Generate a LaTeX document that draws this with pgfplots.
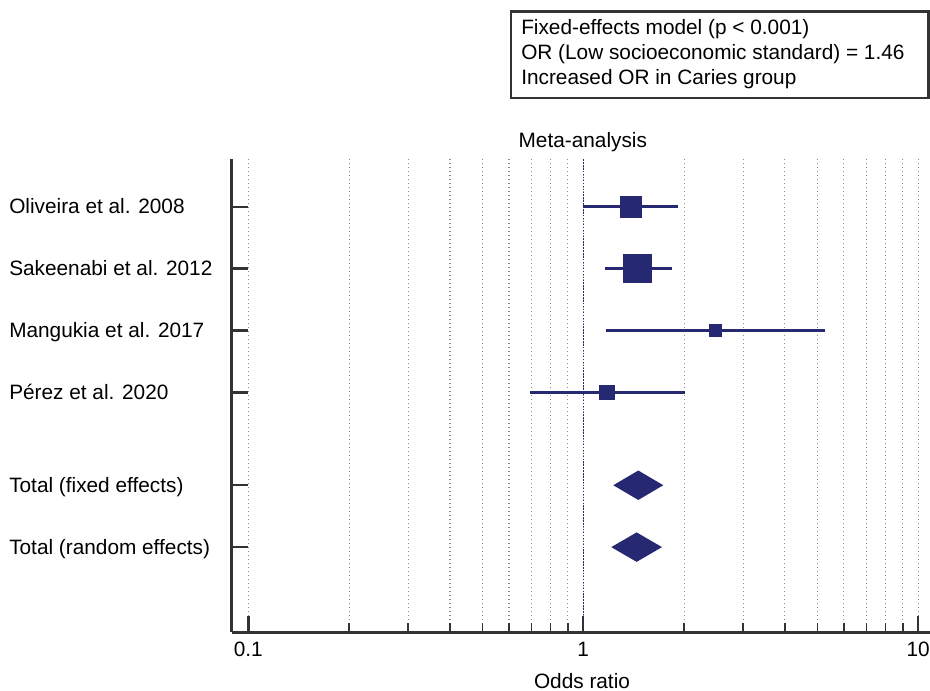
\documentclass[border=0pt]{standalone}
\usepackage{pgfplots}
\pgfplotsset{compat=1.18}
\usepackage{fontspec}
\setmainfont{Liberation Sans}
\definecolor{navy}{RGB}{38,40,114}
\definecolor{axgray}{RGB}{51,51,51}
\definecolor{gridgray}{RGB}{140,140,140}
\newcommand\ff{\fontsize{15.6pt}{18.4pt}\selectfont}
\begin{document}
\begin{tikzpicture}
\begin{axis}[
  scale only axis,
  width=523.7pt, height=354.75pt,
  xmode=log, log basis x=10,
  xmin=0.0892, xmax=10.84,
  ymin=0.234, ymax=7.876, y dir=reverse,
  axis x line*=bottom, axis y line*=left,
  axis line style={axgray, line width=2pt},
  xtick={0.1,1,10}, xticklabels={0.1,1,10},
  minor xtick={0.2,0.3,0.4,0.5,0.6,0.7,0.8,0.9,2,3,4,5,6,7,8,9},
  ytick={1,2,3,4,5.5,6.5}, yticklabels={},
  tick align=inside,
  major tick length=12pt, minor tick length=7pt,
  major tick style={axgray, line width=1.8pt},
  minor tick style={axgray, line width=1pt},
  xmajorgrids, xminorgrids,
  major grid style={gridgray, line width=0.8pt, dash pattern=on 0.75pt off 2.25pt},
  minor grid style={gridgray, line width=0.8pt, dash pattern=on 0.75pt off 2.25pt},
  xticklabel style={font=\ff, anchor=base, yshift=-18.3pt},
  clip=false,
]
% reference line at OR = 1
\addplot[navy, line width=1.1pt, dash pattern=on 1.1pt off 1.1pt] coordinates {(1,0.234) (1,7.876)};
% confidence intervals
\addplot[navy, line width=2pt] coordinates {(1.00,1) (1.92,1)};
\addplot[navy, line width=2pt] coordinates {(1.158,2) (1.84,2)};
\addplot[navy, line width=2pt] coordinates {(1.171,3) (5.28,3)};
\addplot[navy, line width=2pt] coordinates {(0.695,4) (2.006,4)};
% point estimates (box size ~ weight)
\addplot[only marks, mark=square*, mark size=8.0pt, mark options={fill=navy, draw=navy, line width=0.4pt}] coordinates {(1.388,1)};
\addplot[only marks, mark=square*, mark size=10.4pt, mark options={fill=navy, draw=navy, line width=0.4pt}] coordinates {(1.451,2)};
\addplot[only marks, mark=square*, mark size=4.4pt, mark options={fill=navy, draw=navy, line width=0.4pt}] coordinates {(2.475,3)};
\addplot[only marks, mark=square*, mark size=5.4pt, mark options={fill=navy, draw=navy, line width=0.4pt}] coordinates {(1.175,4)};
% pooled estimates
\addplot[fill=navy, draw=none] coordinates {(1.229,5.5) (1.46,5.262) (1.733,5.5) (1.46,5.738)} --cycle;
\addplot[fill=navy, draw=none] coordinates {(1.212,6.5) (1.443,6.262) (1.718,6.5) (1.443,6.738)} --cycle;
\coordinate (TL) at (rel axis cs:0,1);
\end{axis}
\begin{scope}[shift={(TL)}, shift={(-173.775pt,119.475pt)}, x=0.75pt, y=-0.75pt]
\pgfresetboundingbox
\path[use as bounding box] (0,0) rectangle (930,691);
\draw[axgray, line width=2pt] (511,11.3) rectangle (928.5,98);
\node[anchor=base west, inner sep=0, font=\ff] at (521,35) {Fixed-effects model (p < 0.001)};
\node[anchor=base west, inner sep=0, font=\ff] at (521,59.7) {OR (Low socioeconomic standard) = 1.46};
\node[anchor=base west, inner sep=0, font=\ff] at (521,84.3) {Increased OR in Caries group};
\node[anchor=base, inner sep=0, font=\ff] at (582.8,147.3) {Meta-analysis};
\node[anchor=base, inner sep=0, font=\ff] at (582,688.3) {Odds ratio};
\node[anchor=base west, inner sep=0, font=\ff] at (9,213.7) {Oliveira et al. 2008};
\node[anchor=base west, inner sep=0, font=\ff] at (9,275.6) {Sakeenabi et al. 2012};
\node[anchor=base west, inner sep=0, font=\ff] at (9,337.5) {Mangukia et al. 2017};
\node[anchor=base west, inner sep=0, font=\ff] at (9,399.4) {Pérez et al. 2020};
\node[anchor=base west, inner sep=0, font=\ff] at (9,492.2) {Total (fixed effects)};
\node[anchor=base west, inner sep=0, font=\ff] at (9,554.2) {Total (random effects)};
\end{scope}
\end{tikzpicture}
\end{document}
